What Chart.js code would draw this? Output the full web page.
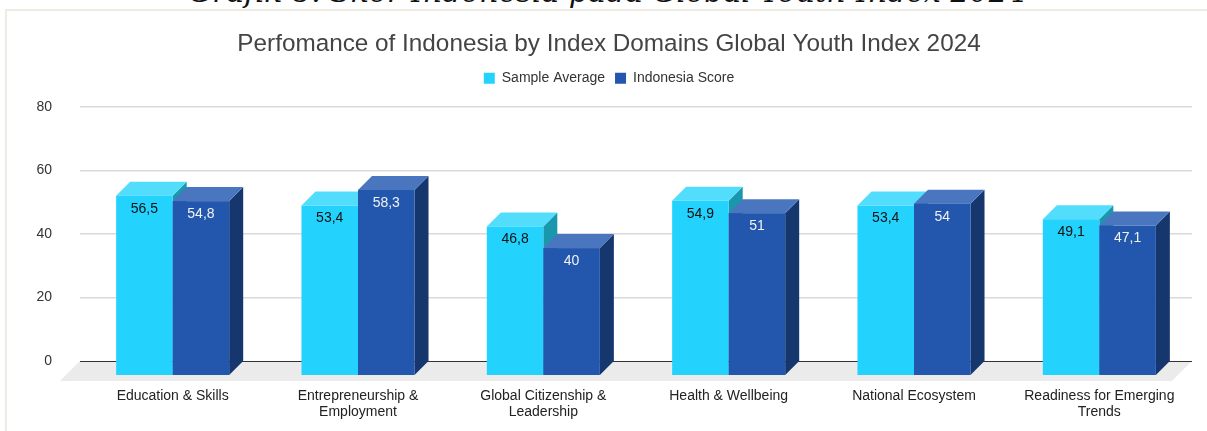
<!DOCTYPE html>
<html>
<head>
<meta charset="utf-8">
<script src="https://cdn.jsdelivr.net/npm/chart.js@4.4.0/dist/chart.umd.min.js"></script>
<style>
  html, body { margin: 0; padding: 0; background: #fff; width: 1207px; height: 431px; overflow: hidden; }
  #caption { position: absolute; left: 4px; top: -23px; width: 1207px; text-align: center; white-space: nowrap;
    font: italic 30px "DejaVu Serif"; line-height: 30px; color: #111; }
  #frame { position: absolute; left: 5px; top: 9px; width: 1210px; height: 440px;
    border-top: 2px solid #eeebe3; border-left: 2px solid #eeebe3; }
  #chart { position: absolute; left: 0; top: 0; }
</style>
</head>
<body>
<div id="caption">Grafik 8. Skor Indonesia pada Global Youth Index 2024</div>
<div id="frame"></div>
<canvas id="chart" width="1207" height="431"></canvas>
<script>
const categories = [
  ["Education & Skills"],
  ["Entrepreneurship &", "Employment"],
  ["Global Citizenship &", "Leadership"],
  ["Health & Wellbeing"],
  ["National Ecosystem"],
  ["Readiness for Emerging", "Trends"],
];
const sampleAverage = [56.5, 53.4, 46.8, 54.9, 53.4, 49.1];
const indonesiaScore = [54.8, 58.3, 40, 51, 54, 47.1];
const yTicks = [0, 20, 40, 60, 80];

// front / top / side colours for each series
const faces = [
  { front: "#23d3fd", top: "#52ddfd", side: "#1997ad", label: "#111" },
  { front: "#2257ad", top: "#4a76c0", side: "#16366e", label: "#f2f2f2" },
];
const depth = 14;

// draws the bars as boxes, using the positions chart.js computed
const bars3d = {
  id: "bars3d",
  beforeDatasetsDraw(chart) {
    const ctx = chart.ctx;
    const area = chart.chartArea;
    const y0 = chart.scales.y.getPixelForValue(0);
    ctx.save();
    // floor
    ctx.fillStyle = "#ebebeb";
    ctx.beginPath();
    ctx.moveTo(area.left, y0);
    ctx.lineTo(area.right, y0);
    ctx.lineTo(area.right - 20, y0 + 20);
    ctx.lineTo(area.left - 20, y0 + 20);
    ctx.closePath();
    ctx.fill();
    // zero line
    ctx.strokeStyle = "#333";
    ctx.lineWidth = 1;
    ctx.beginPath();
    ctx.moveTo(area.left, Math.round(y0) + 0.5);
    ctx.lineTo(area.right, Math.round(y0) + 0.5);
    ctx.stroke();

    chart.data.datasets.forEach(function (ds, di) {
      const c = faces[di];
      chart.getDatasetMeta(di).data.forEach(function (bar, i) {
        const l = bar.x - bar.width / 2;
        const r = bar.x + bar.width / 2;
        const top = bar.y + depth;
        const bot = y0 + depth;
        // side
        ctx.fillStyle = c.side;
        ctx.beginPath();
        ctx.moveTo(r, top);
        ctx.lineTo(r + depth, top - depth);
        ctx.lineTo(r + depth, bot - depth);
        ctx.lineTo(r, bot);
        ctx.closePath();
        ctx.fill();
        // top
        ctx.fillStyle = c.top;
        ctx.beginPath();
        ctx.moveTo(l, top);
        ctx.lineTo(l + depth, top - depth);
        ctx.lineTo(r + depth, top - depth);
        ctx.lineTo(r, top);
        ctx.closePath();
        ctx.fill();
        // front
        ctx.fillStyle = c.front;
        ctx.fillRect(l, top, r - l, bot - top);
        // value label
        ctx.fillStyle = c.label;
        ctx.font = '14px "Liberation Sans"';
        ctx.textAlign = "center";
        ctx.textBaseline = "middle";
        ctx.fillText(String(ds.data[i]).replace(".", ","), bar.x, top + 13);
      });
    });
    ctx.restore();
    return false;
  },
};

Chart.defaults.font.family = '"Liberation Sans", Arial, sans-serif';

new Chart("chart", {
  type: "bar",
  data: {
    labels: categories,
    datasets: [
      { label: "Sample Average", data: sampleAverage, backgroundColor: faces[0].front },
      { label: "Indonesia Score", data: indonesiaScore, backgroundColor: faces[1].front },
    ],
  },
  options: {
    responsive: false,
    animation: false,
    events: [],
    layout: { padding: { top: 20, left: 26, right: 15, bottom: 0 } },
    datasets: { bar: { categoryPercentage: 0.61, barPercentage: 1 } },
    plugins: {
      title: {
        display: true,
        text: "Perfomance of Indonesia by Index Domains Global Youth Index 2024",
        color: "#444",
        font: { size: 24.3, weight: "normal" },
        padding: { top: 10, bottom: 2 },
      },
      // empty spacer between legend and plot
      subtitle: {
        display: true,
        text: "",
        weight: 500,
        font: { size: 10 },
        padding: 0,
      },
      legend: {
        labels: {
          boxWidth: 11,
          boxHeight: 11,
          color: "#333",
          font: { size: 14 },
          padding: 10,
        },
      },
      tooltip: { enabled: false },
    },
    scales: {
      x: {
        afterFit: function (s) { s.height = 70; },
        grid: { display: false },
        border: { display: false },
        ticks: { color: "#222", font: { size: 14, lineHeight: 1.08 }, padding: 20, maxRotation: 0, autoSkip: false },
      },
      y: {
        min: 0,
        max: 80,
        afterBuildTicks: function (s) { s.ticks = yTicks.map(function (v) { return { value: v }; }); },
        afterFit: function (s) { s.width = 54; },
        grid: {
          color: function (c) { return c.tick.value === 0 ? "rgba(0,0,0,0)" : "#dadada"; },
          lineWidth: 1.5,
          drawTicks: false,
        },
        border: { display: false },
        ticks: { color: "#333", font: { size: 14 }, padding: 28 },
      },
    },
  },
  plugins: [bars3d],
});
</script>
</body>
</html>
